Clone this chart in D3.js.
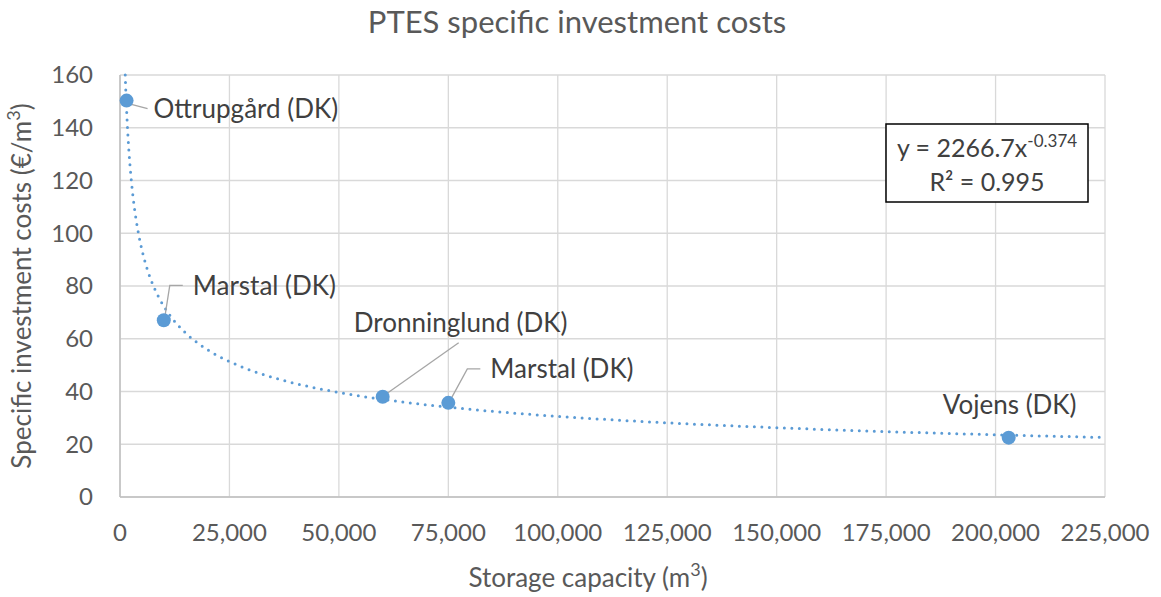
<!DOCTYPE html>
<html>
<head>
<meta charset="utf-8">
<script src="https://cdn.jsdelivr.net/npm/d3@7"></script>
<style>
  body { margin: 0; background: #fff; }
  text { font-family: Lato, "Open Sans", sans-serif; }
</style>
</head>
<body>
<svg id="chart"></svg>
<script>
// Data
const plants = ["Ottrupgård (DK)", "Marstal (DK)", "Dronninglund (DK)", "Marstal (DK)", "Vojens (DK)"];
const capacity = [1500, 10000, 60000, 75000, 203000];
const cost = [150.3, 67, 38, 35.7, 22.5];
const xTicks = [0, 25000, 50000, 75000, 100000, 125000, 150000, 175000, 200000, 225000];
const yTicks = [0, 20, 40, 60, 80, 100, 120, 140, 160];
// power trendline shown on chart
const trendA = 2266.7;
const trendB = -0.374;

// Setup
const W = 1161, H = 597;
const svg = d3.select("#chart").attr("width", W).attr("height", H);
const margin = { top: 75, right: 56, bottom: 100, left: 120 };
const width = W - margin.left - margin.right;
const height = H - margin.top - margin.bottom;
const g = svg.append("g").attr("transform", `translate(${margin.left},${margin.top})`);

const x = d3.scaleLinear().domain([0, 225000]).range([0, width]);
const y = d3.scaleLinear().domain([0, 160]).range([height, 0]);

// Grid
g.selectAll(".hgrid").data(yTicks).enter().append("line")
  .attr("x1", 0).attr("x2", width)
  .attr("y1", (d) => y(d)).attr("y2", (d) => y(d))
  .attr("stroke", "#d9d9d9").attr("stroke-width", 1.3);
g.selectAll(".vgrid").data(xTicks).enter().append("line")
  .attr("y1", 0).attr("y2", height)
  .attr("x1", (d) => x(d)).attr("x2", (d) => x(d))
  .attr("stroke", "#d9d9d9").attr("stroke-width", 1.3);

// Axis lines
g.append("line").attr("x1", 0).attr("x2", width).attr("y1", height).attr("y2", height)
  .attr("stroke", "#bfbfbf").attr("stroke-width", 1.5);
g.append("line").attr("x1", 0).attr("x2", 0).attr("y1", 0).attr("y2", height)
  .attr("stroke", "#bfbfbf").attr("stroke-width", 1.5);

// Tick labels
g.selectAll(".ylab").data(yTicks).enter().append("text")
  .attr("x", -27).attr("y", (d) => y(d)).attr("dy", "0.35em")
  .attr("text-anchor", "end").attr("fill", "#595959").attr("font-size", "24px")
  .text((d) => d);
g.selectAll(".xlab").data(xTicks).enter().append("text")
  .attr("x", (d) => x(d)).attr("y", height + 36).attr("dy", "0.35em")
  .attr("text-anchor", "middle").attr("fill", "#595959").attr("font-size", "24px")
  .text((d) => d3.format(",")(d));

// Trendline
const xStart = Math.pow(160 / trendA, 1 / trendB);
const trendPts = d3.range(0, 401).map((i) => {
  const xv = xStart * Math.pow(225000 / xStart, i / 400);
  return [xv, trendA * Math.pow(xv, trendB)];
});
g.append("path")
  .datum(trendPts)
  .attr("fill", "none")
  .attr("stroke", "#5b9bd5")
  .attr("stroke-width", 3)
  .attr("stroke-linecap", "round")
  .attr("stroke-dasharray", "0 7.5")
  .attr("d", d3.line().x((d) => x(d[0])).y((d) => y(d[1])));

// Leader lines and labels (offsets in px relative to point)
const labelPos = [
  { dx: 27, dy: 8, anchor: "start", leader: [[2, 3], [21, 8]] },
  { dx: 29, dy: -34, anchor: "start", leader: [[1, -3], [6, -35], [19, -35]] },
  { dx: 78, dy: -74, anchor: "middle", leader: [[1, -1], [76, -54]] },
  { dx: 42, dy: -34, anchor: "start", leader: [[1, -1], [19, -34], [32, -34]] },
  { dx: 1, dy: -33, anchor: "middle", leader: null },
];

capacity.forEach((c, i) => {
  const px = x(c), py = y(cost[i]);
  const lp = labelPos[i];
  if (lp.leader) {
    g.append("path")
      .attr("d", d3.line()(lp.leader.map((p) => [px + p[0], py + p[1]])))
      .attr("fill", "none").attr("stroke", "#a6a6a6").attr("stroke-width", 1.3);
  }
});

g.selectAll(".pt").data(capacity).enter().append("circle")
  .attr("cx", (d) => x(d)).attr("cy", (d, i) => y(cost[i]))
  .attr("r", 7).attr("fill", "#5b9bd5");

capacity.forEach((c, i) => {
  const px = x(c), py = y(cost[i]);
  const lp = labelPos[i];
  g.append("text")
    .attr("x", px + lp.dx).attr("y", py + lp.dy).attr("dy", "0.35em")
    .attr("text-anchor", lp.anchor).attr("fill", "#404040").attr("font-size", "26px")
    .text(plants[i]);
});

// Equation box
const box = g.append("g").attr("transform", `translate(${886 - margin.left},${124 - margin.top})`);
box.append("rect").attr("width", 202).attr("height", 78)
  .attr("fill", "#fff").attr("stroke", "#000").attr("stroke-width", 1.5);
const eq = box.append("text").attr("x", 101).attr("y", 24).attr("dy", "0.35em")
  .attr("text-anchor", "middle").attr("fill", "#404040").attr("font-size", "25px");
eq.append("tspan").text(`y = ${trendA}x`);
eq.append("tspan").attr("baseline-shift", "super").attr("font-size", "17px").text(`${trendB}`);
box.append("text").attr("x", 101).attr("y", 58).attr("dy", "0.35em")
  .attr("text-anchor", "middle").attr("fill", "#404040").attr("font-size", "25px")
  .text("R² = 0.995");

// Titles
svg.append("text").attr("x", 577).attr("y", 22).attr("dy", "0.35em")
  .attr("text-anchor", "middle").attr("fill", "#595959").attr("font-size", "31px")
  .text("PTES specific investment costs");

const xt = svg.append("text").attr("x", 588).attr("y", 578).attr("dy", "0.35em")
  .attr("text-anchor", "middle").attr("fill", "#595959").attr("font-size", "26px");
xt.append("tspan").text("Storage capacity (m");
xt.append("tspan").attr("baseline-shift", "super").attr("font-size", "18px").text("3");
xt.append("tspan").text(")");

const yt = svg.append("text").attr("transform", "translate(22,286) rotate(-90)").attr("dy", "0.35em")
  .attr("text-anchor", "middle").attr("fill", "#595959").attr("font-size", "26px");
yt.append("tspan").text("Specific investment costs (€/m");
yt.append("tspan").attr("baseline-shift", "super").attr("font-size", "18px").text("3");
yt.append("tspan").text(")");
</script>
</body>
</html>
